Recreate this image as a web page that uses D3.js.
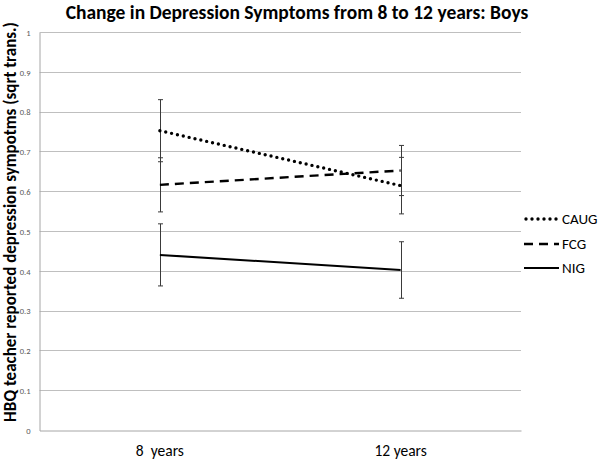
<!DOCTYPE html>
<html>
<head>
<meta charset="utf-8">
<script src="https://cdn.jsdelivr.net/npm/d3@7"></script>
<style>
  html, body { margin: 0; padding: 0; background: #fff; }
  svg { display: block; }
</style>
</head>
<body>
<svg id="chart" width="600" height="461"></svg>
<script>
// ---- data ----
const categories = ["8  years", "12 years"];
const seriesNames = ["CAUG", "FCG", "NIG"];
const caugMeans = [0.752, 0.614];
const caugErr = [0.078, 0.071];
const fcgMeans = [0.616, 0.652];
const fcgErr = [0.068, 0.063];
const nigMeans = [0.440, 0.402];
const nigErr = [0.078, 0.071];
const yTicks = [0, 0.1, 0.2, 0.3, 0.4, 0.5, 0.6, 0.7, 0.8, 0.9, 1];
const titleText = "Change in Depression Symptoms from 8 to 12 years: Boys";
const yTitleText = "HBQ teacher reported depression sympotms (sqrt trans.)";

const series = [
  { name: seriesNames[0], means: caugMeans, err: caugErr, dash: "0,6", width: 3.4, cap: "round" },
  { name: seriesNames[1], means: fcgMeans, err: fcgErr, dash: "9,6", width: 2.4, cap: "butt" },
  { name: seriesNames[2], means: nigMeans, err: nigErr, dash: null, width: 2, cap: "butt" }
];

const svg = d3.select("#chart");
const plot = { left: 39.5, right: 521, top: 32, bottom: 430 };

const x = d3.scaleBand().domain(categories).range([plot.left, plot.right]);
const y = d3.scaleLinear().domain([0, 1]).range([plot.bottom, plot.top]);
const cx = c => x(c) + x.bandwidth() / 2;

const font = "Carlito, Calibri, Lato, 'Open Sans', 'Liberation Sans', sans-serif";

// gridlines
svg.append("g").selectAll("line").data(yTicks.filter(t => t > 0)).join("line")
  .attr("x1", plot.left).attr("x2", plot.right)
  .attr("y1", d => Math.round(y(d)) + 0.5).attr("y2", d => Math.round(y(d)) + 0.5)
  .attr("stroke", "#bfbfbf").attr("stroke-width", 1);

// y axis
const yAxis = d3.axisLeft(y).tickValues(yTicks).tickSize(0).tickPadding(9)
  .tickFormat(d => d === 0 ? "0" : d === 1 ? "1" : d3.format(".1f")(d));
const gy = svg.append("g").attr("transform", `translate(${plot.left},0.5)`).call(yAxis);
gy.select(".domain").attr("stroke", "#a6a6a6");
gy.selectAll("text").attr("fill", "#595959").style("font-family", font).style("font-size", "8.5px");

// x axis
const xAxis = d3.axisBottom(x).tickSize(0).tickPadding(14);
const gx = svg.append("g").attr("transform", `translate(0,${plot.bottom + 0.5})`).call(xAxis);
gx.select(".domain").attr("stroke", "#a6a6a6");
gx.selectAll("text").attr("fill", "#000").style("font-family", font).style("font-size", "15.5px")
  .style("white-space", "pre");

// error bars
const capW = 2.5;
series.forEach(s => {
  const g = svg.append("g");
  categories.forEach((c, i) => {
    const px = Math.round(cx(c)) + 0.5;
    const top = y(s.means[i] + s.err[i]);
    const bot = y(s.means[i] - s.err[i]);
    g.append("line").attr("x1", px).attr("x2", px).attr("y1", top).attr("y2", bot)
      .attr("stroke", "#3a3a3a").attr("stroke-width", 1);
    [top, bot].forEach(v => {
      g.append("line").attr("x1", px - capW).attr("x2", px + capW).attr("y1", v).attr("y2", v)
        .attr("stroke", "#3a3a3a").attr("stroke-width", 1);
    });
  });
});

// series lines
const line = d3.line().x((d, i) => cx(categories[i])).y(d => y(d));
series.forEach(s => {
  svg.append("path").datum(s.means).attr("d", line)
    .attr("fill", "none").attr("stroke", "#000")
    .attr("stroke-width", s.width)
    .attr("stroke-linecap", s.cap)
    .attr("stroke-dasharray", s.dash);
});

// legend
const legY = [219, 244, 268];
const leg = svg.append("g");
series.forEach((s, i) => {
  leg.append("line").attr("x1", s.cap === "round" ? 526 : 524).attr("x2", 559)
    .attr("y1", legY[i]).attr("y2", legY[i])
    .attr("stroke", "#000").attr("stroke-width", s.width)
    .attr("stroke-linecap", s.cap).attr("stroke-dasharray", s.dash);
  leg.append("text").attr("x", 562).attr("y", legY[i]).attr("dy", "0.35em")
    .style("font-family", font).style("font-size", "15px").attr("fill", "#000")
    .text(s.name);
});

// title
svg.append("text").attr("x", 297).attr("y", 19).attr("text-anchor", "middle")
  .style("font-family", font).style("font-size", "19.5px").style("font-weight", "bold")
  .attr("fill", "#000").text(titleText);

// y title
svg.append("text").attr("transform", "translate(16,222) rotate(-90)").attr("text-anchor", "middle")
  .style("font-family", font).style("font-size", "17px").style("font-weight", "bold")
  .attr("fill", "#000").text(yTitleText);
</script>
</body>
</html>
